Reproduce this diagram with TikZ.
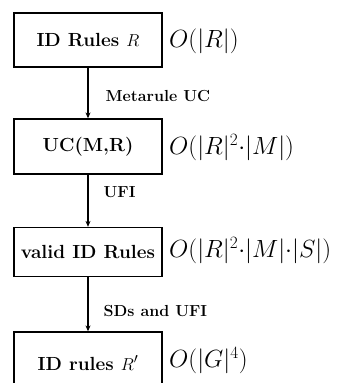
\documentclass[tikz,border=0pt]{standalone}
\usetikzlibrary{arrows.meta}
\begin{document}
\begin{tikzpicture}[x=1pt,y=-1pt,
  stagebox/.style={draw, line width=1.3pt, minimum width=148pt, inner sep=0pt,
    font=\fontsize{19}{22}\selectfont\bfseries},
  flow/.style={line width=1.3pt, -{Stealth[length=6pt,width=5pt]}},
  steplabel/.style={anchor=west, inner sep=0pt, font=\fontsize{16}{19}\selectfont\bfseries},
  cost/.style={anchor=west, inner sep=0pt, font=\fontsize{23}{26}\selectfont}]
\useasboundingbox (0,0) rectangle (338,383);
\node[stagebox, minimum height=54pt] (b1) at (88,40) {ID Rules $R$};
\node[stagebox, minimum height=55pt] (b2) at (88,146.5) {UC(M,R)};
\node[stagebox, minimum height=49pt] (b3) at (88,252) {valid ID Rules};
\node[stagebox, minimum height=62pt] (b4) at (88,363) {ID rules $R'$};
\draw[flow] (b1.south) -- (b2.north) node[midway, xshift=17pt, yshift=-3pt, steplabel] (l1) {Metarule UC};
\draw[flow] (b2.south) -- (b3.north) node[midway, xshift=15pt, yshift=9pt, steplabel] (l2) {UFI};
\draw[flow] (b3.south) -- (b4.north) node[midway, xshift=15pt, yshift=-7pt, steplabel] (l3) {SDs and UFI};
\node[cost] (c1) at (169,41) {$O(|R|)$};
\node[cost] (c2) at (169,148) {$O(|R|^2{\cdot}|M|)$};
\node[cost] (c3) at (169,251) {$O(|R|^2{\cdot}|M|{\cdot}|S|)$};
\node[cost] (c4) at (169,361) {$O(|G|^4)$};
\end{tikzpicture}
\end{document}
